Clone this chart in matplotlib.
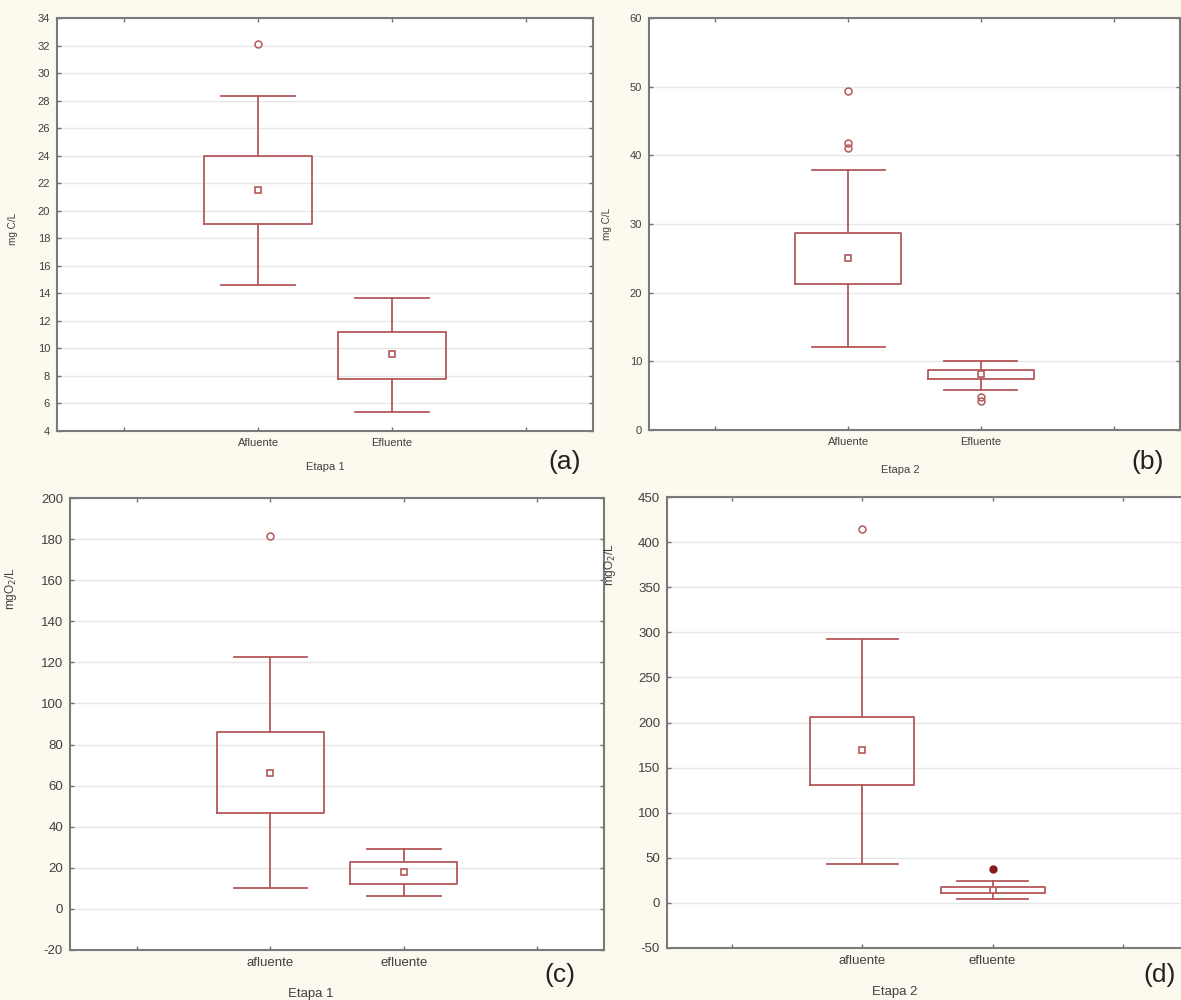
import matplotlib.pyplot as plt
import numpy as np

plt.rcParams['font.family'] = ['Liberation Sans', 'DejaVu Sans']
plt.rcParams['axes.unicode_minus'] = False

# box summaries: whisker low, q1, centre (mean), q3, whisker high, outliers
cats_upper = ['Afluente', 'Efluente']
cats_lower = ['afluente', 'efluente']

a_low = [14.6, 5.4]
a_q1 = [19.0, 7.8]
a_mid = [21.5, 9.6]
a_q3 = [23.95, 11.2]
a_high = [28.35, 13.65]
a_out = [[32.1], []]

b_low = [12.1, 5.8]
b_q1 = [21.2, 7.4]
b_mid = [25.0, 8.1]
b_q3 = [28.7, 8.7]
b_high = [37.8, 10.1]
b_out = [[49.3, 41.8, 41.1], [4.8, 4.2]]

c_low = [10.1, 6.4]
c_q1 = [46.6, 12.2]
c_mid = [66.3, 17.9]
c_q3 = [86.3, 22.9]
c_high = [122.8, 29.0]
c_out = [[181.7], []]

d_low = [42.9, 4.2]
d_q1 = [130.6, 10.8]
d_mid = [169.0, 14.4]
d_q3 = [205.6, 17.4]
d_high = [292.7, 24.8]
d_out = [[415.0], []]
d_extreme = [[], [37.7]]

BOX = '#b4585a'
BG = '#fcf9ee'

fig = plt.figure(figsize=(11.81, 10.0), dpi=100, facecolor=BG)


def panel(rect, cats, low, q1, mid, q3, high, outs, yticks, ylabel, xlabel,
          ylab_pos, xlab_pos, fs, extreme=None):
    ax = fig.add_axes(rect)
    ax.set_facecolor('white')
    stats = []
    for i in range(len(cats)):
        stats.append(dict(whislo=low[i], q1=q1[i], med=mid[i], q3=q3[i],
                          whishi=high[i], fliers=outs[i], label=cats[i]))
    ax.bxp(stats, positions=[1, 2], widths=0.8, capwidths=0.55,
           boxprops=dict(color=BOX, lw=1.3),
           whiskerprops=dict(color=BOX, lw=1.3),
           capprops=dict(color=BOX, lw=1.3),
           medianprops=dict(linestyle='none'),
           flierprops=dict(marker='o', markersize=5, markerfacecolor='none',
                           markeredgecolor=BOX, markeredgewidth=1.1),
           zorder=3)
    ax.plot([1, 2], mid, linestyle='none', marker='s', markersize=5,
            markerfacecolor='white', markeredgecolor=BOX, markeredgewidth=1.2,
            zorder=4)
    if extreme is not None:
        for i, vals in enumerate(extreme):
            if vals:
                ax.plot([i + 1] * len(vals), vals, linestyle='none', marker='o',
                        markersize=5, color='#8b1a1a', zorder=4)

    ax.set_xlim(-0.5, 3.5)
    ax.set_ylim(yticks[0], yticks[-1])
    ax.set_xticks([0, 1, 2, 3])
    ax.set_xticklabels(['', cats[0], cats[1], ''])
    ax.set_yticks(yticks)
    ax.grid(axis='y', color='#e6e6e6', lw=1.0, zorder=0)
    ax.tick_params(direction='in', length=3, width=1, color='#707070',
                   top=True, right=True, labelsize=fs, labelcolor='#404040',
                   pad=5)
    for s in ax.spines.values():
        s.set_color('#7a7a7a')
        s.set_linewidth(1.5)
    ax.set_ylabel(ylabel, fontsize=fs * 0.9, color='#404040')
    ax.yaxis.set_label_coords(*ylab_pos)
    ax.set_xlabel(xlabel, fontsize=fs, color='#404040')
    ax.xaxis.set_label_coords(*xlab_pos)
    return ax


panel([0.0483, 0.569, 0.4539, 0.413], cats_upper, a_low, a_q1, a_mid, a_q3,
      a_high, a_out, np.arange(4, 35, 2), 'mg C/L', 'Etapa 1',
      (-0.073, 0.49), (0.50, -0.075), 8)
panel([0.5495, 0.57, 0.4496, 0.412], cats_upper, b_low, b_q1, b_mid, b_q3,
      b_high, b_out, np.arange(0, 61, 10), 'mg C/L', 'Etapa 2',
      (-0.07, 0.50), (0.473, -0.085), 8)
panel([0.0593, 0.050, 0.4522, 0.452], cats_lower, c_low, c_q1, c_mid, c_q3,
      c_high, c_out, np.arange(-20, 201, 20), r'mgO$_2$/L', 'Etapa 1',
      (-0.095, 0.80), (0.45, -0.085), 9.5)
panel([0.5648, 0.052, 0.4411, 0.451], cats_lower, d_low, d_q1, d_mid, d_q3,
      d_high, d_out, np.arange(-50, 451, 50), r'mgO$_2$/L', 'Etapa 2',
      (-0.095, 0.85), (0.437, -0.085), 9.5, extreme=d_extreme)

for x, y, t in [(0.478, 0.538, '(a)'), (0.972, 0.538, '(b)'),
                (0.474, 0.025, '(c)'), (0.982, 0.025, '(d)')]:
    fig.text(x, y, t, fontsize=19, color='#222222', ha='center', va='center')

fig.savefig('out.png', dpi=100, facecolor=BG)
